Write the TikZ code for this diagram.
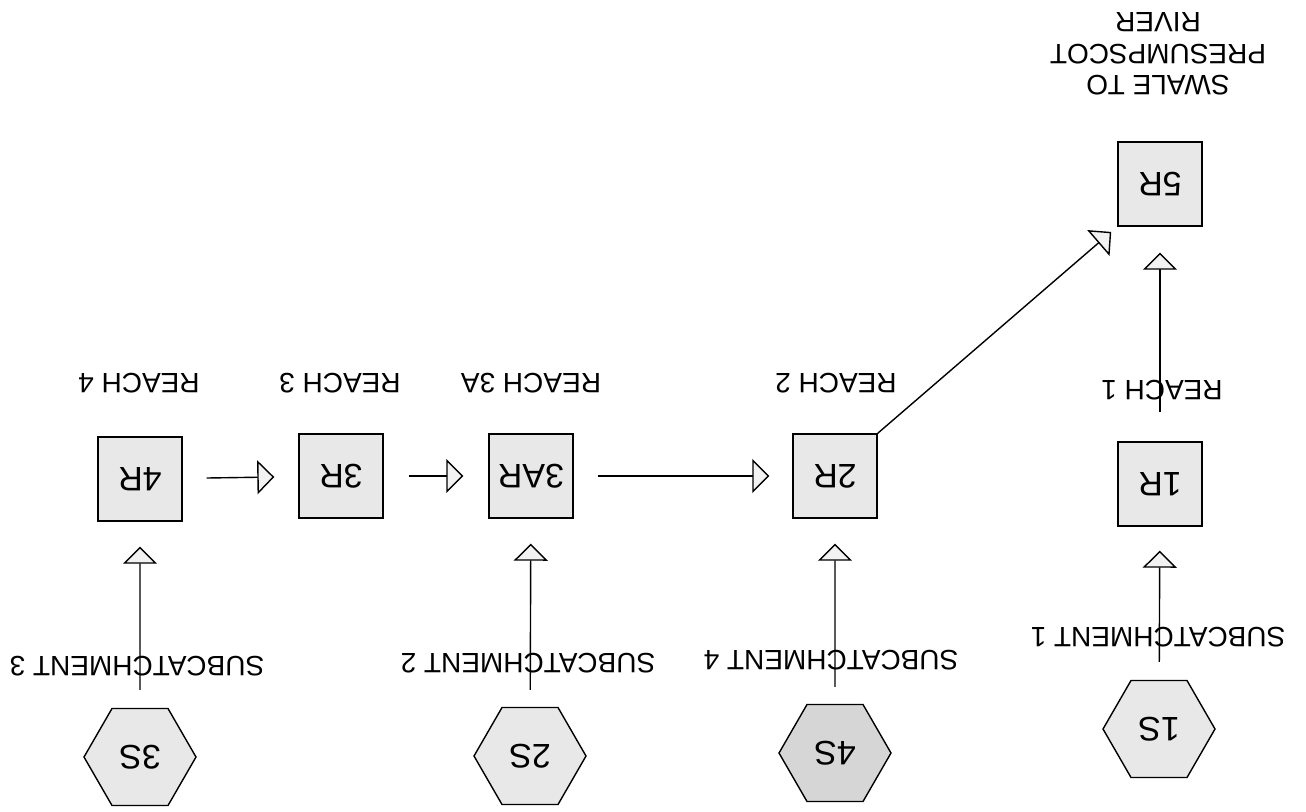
\documentclass[tikz,border=0pt]{standalone}
\usepackage{fontspec}
\setmainfont{Liberation Sans}
\usetikzlibrary{arrows.meta,shapes.geometric}
\tikzset{
  reach/.style={draw, line width=1.4pt, fill=gray!18, minimum size=84pt, inner sep=0pt, font=\fontsize{34}{36}\selectfont},
  sub/.style={draw, line width=1.4pt, fill=gray!18, regular polygon, regular polygon sides=6, minimum size=112pt, inner sep=0pt, font=\fontsize{34}{36}\selectfont},
  lbl/.style={rotate=180, inner sep=0pt, font=\fontsize{28}{31.5}\selectfont, align=center},
  flow/.style={line width=1.4pt, -{Triangle[length=17pt,width=34pt,fill=gray!10]}},
}
\newcommand{\up}[1]{\rotatebox[origin=c]{180}{#1}}
\begin{document}
\begin{tikzpicture}[x=1pt,y=-1pt]
\useasboundingbox (0,0) rectangle (1306,811);
% reaches
\node[reach] (r4) at (140,479) {\up{4R}};
\node[reach] (r3) at (341,476) {\up{3R}};
\node[reach] (r3a) at (531,476) {\up{3AR}};
\node[reach] (r2) at (835,476) {\up{2R}};
\node[reach] (r1) at (1160,484) {\up{1R}};
\node[reach] (r5) at (1160,184) {\up{5R}};
% subcatchments
\node[sub] (s3) at (140,757) {\up{3S}};
\node[sub] (s2) at (530,756) {\up{2S}};
\node[sub, fill=gray!32] (s4) at (835,753) {\up{4S}};
\node[sub] (s1) at (1159,729) {\up{1S}};
% labels
\node[lbl] (l4) at (139,383) {REACH 4};
\node[lbl] (l3) at (340,383) {REACH 3};
\node[lbl] (l3a) at (531,383) {REACH 3A};
\node[lbl] (l2) at (836,383) {REACH 2};
\node[lbl] (l1) at (1162,390) {REACH 1};
\node[lbl] (ls3) at (137,666) {SUBCATCHMENT 3};
\node[lbl] (ls2) at (528,663) {SUBCATCHMENT 2};
\node[lbl] (ls4) at (831,660) {SUBCATCHMENT 4};
\node[lbl] (ls1) at (1158,637) {SUBCATCHMENT 1};
\node[lbl] (l5) at (1158,54) {SWALE TO\\PRESUMPSCOT\\RIVER};
% connectors
\draw[flow, shorten <=18pt, shorten >=25pt] (s3) -- (r4);
\draw[flow, shorten <=17pt, shorten >=25pt] (s2) -- (r3a);
\draw[flow, shorten <=17pt, shorten >=25pt] (s4) -- (r2);
\draw[flow, shorten <=18pt, shorten >=24pt] (s1) -- (r1);
\draw[flow, shorten <=24pt, shorten >=24pt] (r4) -- (r3);
\draw[flow, shorten <=25pt, shorten >=25pt] (r3) -- (r3a);
\draw[flow, shorten <=24pt, shorten >=23pt] (r3a) -- (r2);
\draw[flow, shorten <=29pt, shorten >=26pt] (r1) -- (r5);
\draw[flow, shorten >=8pt] (r2.north east) -- (r5.south west);
\end{tikzpicture}
\end{document}
